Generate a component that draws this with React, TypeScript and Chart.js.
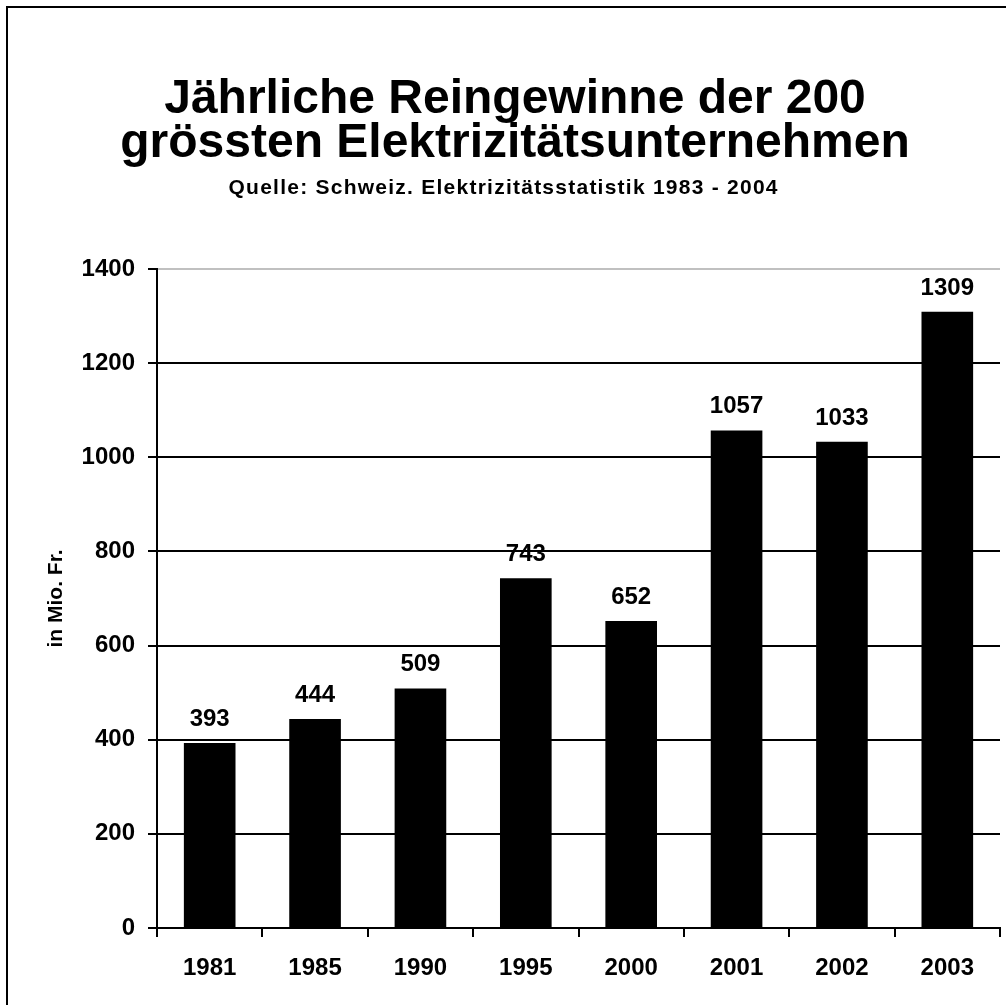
import React, { useEffect, useRef } from "react";
import { Chart, registerables } from "chart.js";

Chart.register(...registerables);

const TITLE_LINES = ["Jährliche Reingewinne der 200", "grössten Elektrizitätsunternehmen"];
const SUBTITLE = "Quelle: Schweiz. Elektrizitätsstatistik 1983 - 2004";
const Y_TITLE = "in Mio. Fr.";
const YEARS = ["1981", "1985", "1990", "1995", "2000", "2001", "2002", "2003"];
const PROFITS = [393, 444, 509, 743, 652, 1057, 1033, 1309];
const Y_MIN = 0;
const Y_MAX = 1400;
const Y_STEP = 200;

const FONT = "'Liberation Sans', Arial, Helvetica, sans-serif";

const decorPlugin = {
  id: "decor",
  afterDraw(chart: any) {
    const ctx = chart.ctx as CanvasRenderingContext2D;
    ctx.save();
    // frame (top + left)
    ctx.strokeStyle = "#000";
    ctx.lineWidth = 2;
    ctx.beginPath();
    ctx.moveTo(6, 7);
    ctx.lineTo(1006, 7);
    ctx.moveTo(7, 6);
    ctx.lineTo(7, 1005);
    ctx.stroke();

    ctx.fillStyle = "#000";
    ctx.textAlign = "center";
    ctx.textBaseline = "alphabetic";
    ctx.font = `bold 48px ${FONT}`;
    ctx.fillText(TITLE_LINES[0], 515, 113);
    ctx.fillText(TITLE_LINES[1], 515, 157);

    ctx.font = `bold 21px ${FONT}`;
    const natural = ctx.measureText(SUBTITLE).width;
    const target = 549;
    const ls = (target - natural) / (SUBTITLE.length - 1);
    (ctx as any).letterSpacing = `${ls}px`;
    ctx.textAlign = "left";
    ctx.fillText(SUBTITLE, 503 - target / 2, 194);
    (ctx as any).letterSpacing = "0px";

    // y title
    const area = chart.chartArea;
    ctx.save();
    ctx.translate(56, (area.top + area.bottom) / 2);
    ctx.rotate(-Math.PI / 2);
    ctx.textAlign = "center";
    ctx.textBaseline = "middle";
    ctx.font = `bold 21px ${FONT}`;
    ctx.fillText(Y_TITLE, 0, 0);
    ctx.restore();

    // data labels
    const meta = chart.getDatasetMeta(0);
    ctx.font = `bold 24px ${FONT}`;
    ctx.textAlign = "center";
    ctx.textBaseline = "alphabetic";
    meta.data.forEach((el: any, i: number) => {
      ctx.fillText(String(PROFITS[i]), el.x, el.y - 17);
    });
    ctx.restore();
  },
};

export default function App() {
  const ref = useRef<HTMLCanvasElement | null>(null);

  useEffect(() => {
    if (!ref.current) return;
    const chart = new Chart(ref.current, {
      type: "bar",
      data: {
        labels: YEARS,
        datasets: [
          {
            data: PROFITS,
            backgroundColor: "#000",
            borderWidth: 0,
            barPercentage: 0.49,
            categoryPercentage: 1,
          },
        ],
      },
      options: {
        responsive: false,
        animation: false,
        layout: { padding: { top: 269, right: 6, left: 0, bottom: 0 } },
        plugins: {
          legend: { display: false },
          tooltip: { enabled: false },
          title: { display: false },
        },
        scales: {
          x: {
            offset: true,
            grid: {
              offset: true,
              drawOnChartArea: false,
              drawTicks: true,
              tickLength: 9,
              color: "#000",
              tickColor: "#000",
              lineWidth: 2,
            },
            border: { display: true, color: "#000", width: 2 },
            ticks: {
              color: "#000",
              font: { family: FONT, size: 24, weight: "bold" },
              padding: 17,
              maxRotation: 0,
            },
            afterFit(scale: any) {
              scale.height = 77;
            },
          },
          y: {
            min: Y_MIN,
            max: Y_MAX,
            ticks: {
              stepSize: Y_STEP,
              color: "#000",
              font: { family: FONT, size: 24, weight: "bold" },
              padding: 13,
              callback: (v: any) => String(v),
            },
            grid: {
              color: (c: any) => (c.tick && c.tick.value === Y_MAX ? "#c0c0c0" : "#000"),
              tickColor: "#000",
              tickLength: 9,
              lineWidth: 2,
            },
            border: { display: true, color: "#000", width: 2 },
            afterFit(scale: any) {
              scale.width = 157;
            },
          },
        },
      },
      plugins: [decorPlugin],
    });
    return () => chart.destroy();
  }, []);

  return (
    <div style={{ position: "absolute", left: 0, top: 0, width: 1006, height: 1005, background: "#fff" }}>
      <canvas ref={ref} width={1006} height={1005} style={{ display: "block" }} />
    </div>
  );
}
